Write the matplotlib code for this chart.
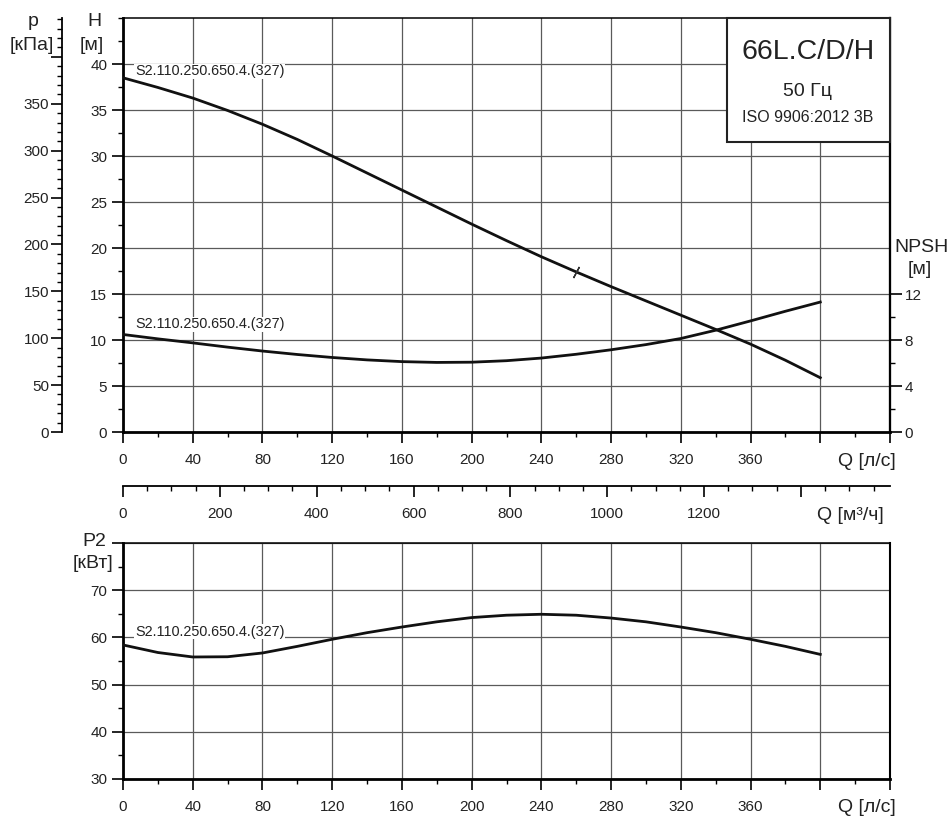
import numpy as np
import matplotlib
matplotlib.use("Agg")
import matplotlib.pyplot as plt
from matplotlib.ticker import MultipleLocator, FixedLocator, FuncFormatter
from matplotlib.patches import Rectangle

plt.rcParams['font.family'] = ['Liberation Sans', 'DejaVu Sans']

# values
q = [0, 20, 40, 60, 80, 100, 120, 140, 160, 180, 200,
     220, 240, 260, 280, 300, 320, 340, 360, 380, 400]
head = [38.5, 37.45, 36.3, 34.95, 33.45, 31.8, 30.0, 28.15, 26.3, 24.45, 22.6,
        20.8, 19.05, 17.4, 15.8, 14.25, 12.7, 11.15, 9.55, 7.8, 5.9]
npsh = [8.48, 8.1, 7.75, 7.38, 7.04, 6.74, 6.48, 6.27, 6.12, 6.05, 6.07,
        6.2, 6.43, 6.76, 7.15, 7.6, 8.13, 8.85, 9.66, 10.5, 11.3]
power = [58.4, 56.8, 55.85, 55.9, 56.7, 58.1, 59.6, 61.0, 62.2, 63.3, 64.2,
         64.7, 64.9, 64.7, 64.1, 63.3, 62.2, 61.0, 59.6, 58.1, 56.4]
curve_name = "S2.110.250.650.4.(327)"
duty_q = 260
title_lines = ["66L.C/D/H", "50 Гц", "ISO 9906:2012 3В"]

W_PX, H_PX = 952, 819
RHO_G = 9.81          # kPa per metre
NPSH_RATIO = 0.8      # 4 m NPSH on the scale of 5 m head
Q_MAX = 440
H_MAX = 45
TXT = '#222222'
GRID = '#5a5a5a'
MAJ, MIN = 7.9, 3.6

fig = plt.figure(figsize=(W_PX / 100, H_PX / 100), dpi=100)


def fx(px):
    return px / W_PX


def fy(py):
    return 1 - py / H_PX


left, right = 123, 890
ax = fig.add_axes([fx(left), fy(432), fx(right - left), (432 - 18) / H_PX])
ax_b = fig.add_axes([fx(left), fy(779), fx(right - left), (779 - 543) / H_PX])
ax_m = fig.add_axes([fx(left), fy(486), fx(right - left), 0.0001])


def style_q_axis(a):
    a.set_xlim(0, Q_MAX)
    a.xaxis.set_major_locator(MultipleLocator(40))
    a.xaxis.set_minor_locator(MultipleLocator(20))
    a.xaxis.set_major_formatter(FuncFormatter(lambda v, p: "" if v > 370 else f"{v:.0f}"))
    a.tick_params(axis='x', which='major', direction='out', length=MAJ, width=1.2,
                  labelsize=11, labelcolor=TXT, pad=7)
    a.tick_params(axis='x', which='minor', direction='out', length=MIN, width=1.0)
    a.tick_params(axis='y', which='major', direction='out', length=MAJ, width=1.2,
                  labelsize=11, labelcolor=TXT, pad=3.5)
    a.tick_params(axis='y', which='minor', direction='out', length=MIN, width=1.0)
    a.grid(True, which='major', color=GRID, lw=0.9)
    a.set_axisbelow(True)
    a.spines['left'].set_linewidth(2)
    a.spines['bottom'].set_linewidth(2)
    a.spines['top'].set_linewidth(1.1)
    a.spines['right'].set_linewidth(1.5)


# ---- head / NPSH panel
style_q_axis(ax)
ax.set_ylim(0, H_MAX)
ax.yaxis.set_major_locator(FixedLocator(np.arange(0, 45, 5)))
ax.yaxis.set_minor_locator(MultipleLocator(2.5))
ax.plot(q, head, color='#111111', lw=2.0, solid_joinstyle='round', zorder=3)
ax.plot(np.array(q), np.array(npsh) / NPSH_RATIO, color='#111111', lw=2.0,
        solid_joinstyle='round', zorder=3)
ax.plot([duty_q], [np.interp(duty_q, q, head)], marker=(2, 2, -28), ms=9,
        mec='#333333', mew=1.0, zorder=4)
lbl = dict(fontsize=10.4, color=TXT, va='center', ha='left', zorder=3,
           bbox=dict(facecolor='white', edgecolor='none', pad=0.5))
ax.text(7, 39.2, curve_name, **lbl)
ax.text(7, 11.7, curve_name, **lbl)

# pressure axis on the far left
ax_p = ax.twinx()
ax_p.set_ylim(0, H_MAX * RHO_G)
ax_p.yaxis.set_ticks_position('left')
ax_p.spines['left'].set_position(('outward', 61 * 0.72))
ax_p.spines['left'].set_linewidth(1.3)
for s in ('top', 'bottom', 'right'):
    ax_p.spines[s].set_visible(False)
ax_p.yaxis.set_major_locator(MultipleLocator(50))
ax_p.yaxis.set_minor_locator(MultipleLocator(10))
ax_p.yaxis.set_major_formatter(FuncFormatter(lambda v, p: "" if v > 370 else f"{v:.0f}"))
ax_p.tick_params(axis='y', which='major', direction='out', length=MAJ, width=1.2,
                 labelsize=11, labelcolor=TXT, pad=1.5)
ax_p.tick_params(axis='y', which='minor', direction='out', length=MIN, width=1.0)

# NPSH axis on the right
ax_n = ax.twinx()
ax_n.set_ylim(0, H_MAX * NPSH_RATIO)
ax_n.yaxis.set_major_locator(FixedLocator([0, 4, 8, 12]))
ax_n.yaxis.set_minor_locator(FixedLocator([2, 6, 10]))
for s in ('top', 'bottom', 'left'):
    ax_n.spines[s].set_visible(False)
ax_n.spines['right'].set_linewidth(1.6)
ax_n.tick_params(axis='y', which='major', direction='out', length=8.5, width=1.2,
                 labelsize=11, labelcolor=TXT, pad=2)
ax_n.tick_params(axis='y', which='minor', direction='out', length=MIN, width=1.0)

# title box in the top right corner
bx0 = (727 - left) / (right - left)
by0 = (432 - 142) / (432 - 18)
ax_n.add_patch(Rectangle((bx0, by0), 1 - bx0, 1 - by0, transform=ax.transAxes,
                         facecolor='white', edgecolor='#222222', lw=1.5,
                         zorder=10, clip_on=False))
cx = (808 - left) / (right - left)
for txt, py, fs in zip(title_lines, [52, 92, 117], [20.5, 14, 11.5]):
    ax_n.text(cx, (432 - py) / (432 - 18), txt, transform=ax.transAxes,
              ha='center', va='center', fontsize=fs, color=TXT, zorder=11)

# ---- m3/h axis
ax_m.set_xlim(0, Q_MAX * 3.6)
ax_m.set_yticks([])
ax_m.patch.set_visible(False)
for s in ('top', 'left', 'right'):
    ax_m.spines[s].set_visible(False)
ax_m.spines['bottom'].set_linewidth(1.3)
ax_m.xaxis.set_major_locator(MultipleLocator(200))
ax_m.xaxis.set_minor_locator(MultipleLocator(50))
ax_m.xaxis.set_major_formatter(FuncFormatter(lambda v, p: "" if v > 1300 else f"{v:.0f}"))
ax_m.tick_params(axis='x', which='major', direction='out', length=MAJ, width=1.2,
                 labelsize=11, labelcolor=TXT, pad=7)
ax_m.tick_params(axis='x', which='minor', direction='out', length=MIN, width=1.0)

# ---- power panel
style_q_axis(ax_b)
ax_b.set_ylim(30, 80)
ax_b.yaxis.set_major_locator(MultipleLocator(10))
ax_b.yaxis.set_minor_locator(MultipleLocator(5))
ax_b.yaxis.set_major_formatter(FuncFormatter(lambda v, p: "" if v > 75 else f"{v:.0f}"))
ax_b.plot(q, power, color='#111111', lw=2.0, solid_joinstyle='round', zorder=3)
ax_b.text(7, 61.2, curve_name, **lbl)

# ---- axis captions
cap = dict(fontsize=14, color=TXT, va='center')
fig.text(fx(33), fy(22), "p", ha='center', **cap)
fig.text(fx(32), fy(46), "[кПа]", ha='center', **cap)
fig.text(fx(94), fy(21), "H", ha='center', **cap)
fig.text(fx(92), fy(46), "[м]", ha='center', **cap)
fig.text(fx(922), fy(248), "NPSH", ha='center', **cap)
fig.text(fx(920), fy(270), "[м]", ha='center', **cap)
fig.text(fx(94), fy(541), "P2", ha='center', **cap)
fig.text(fx(93), fy(564), "[кВт]", ha='center', **cap)
fig.text(fx(867), fy(462), "Q [л/с]", ha='center', **cap)
fig.text(fx(850), fy(516), "Q [м³/ч]", ha='center', **cap)
fig.text(fx(867), fy(808), "Q [л/с]", ha='center', **cap)

fig.savefig("out.png", dpi=100, facecolor='white')
